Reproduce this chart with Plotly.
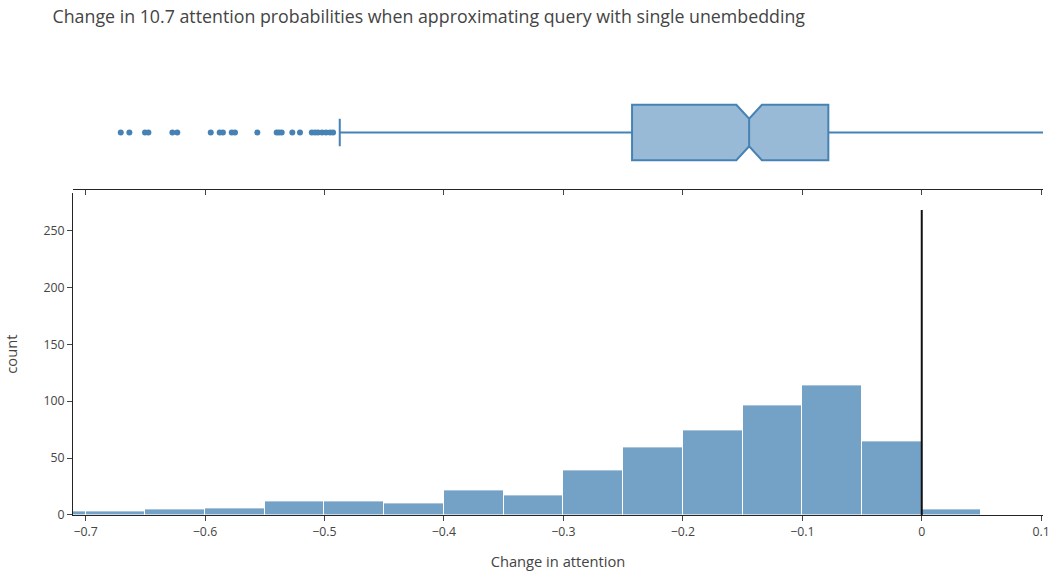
import plotly.graph_objects as go

# ---- data ----
bin_left_edges = [-0.75, -0.70, -0.65, -0.60, -0.55, -0.50, -0.45, -0.40,
                  -0.35, -0.30, -0.25, -0.20, -0.15, -0.10, -0.05, 0.00]
bin_width = 0.05
counts = [3, 3, 5, 6, 12, 12, 10, 22, 17, 39, 59, 74, 96, 114, 65, 5]

box_q1 = [-0.2425]
box_median = [-0.1445]
box_q3 = [-0.0782]
box_lowerfence = [-0.4872]
box_upperfence = [0.115]
box_notchspan = [0.0107]

outliers = [-0.6705, -0.6633, -0.6502, -0.6474, -0.6273, -0.6232, -0.5952,
            -0.5877, -0.5850, -0.5776, -0.5749, -0.5562, -0.5400, -0.5380,
            -0.5358, -0.5269, -0.5205, -0.5106, -0.5079, -0.5054, -0.5020,
            -0.4987, -0.4953, -0.4928]

vline_x = [0, 0]
vline_y = [0, 268]

x_ticks = [-0.7, -0.6, -0.5, -0.4, -0.3, -0.2, -0.1, 0, 0.1]
y_ticks = [0, 50, 100, 150, 200, 250]

COLOR = "#4682b4"

fig = go.Figure()
fig.add_trace(go.Bar(
    x=bin_left_edges, y=counts, width=bin_width, offset=0,
    marker=dict(color=COLOR, line=dict(color="white", width=1)),
    opacity=0.75, showlegend=False, xaxis="x", yaxis="y",
))
fig.add_trace(go.Scatter(
    x=vline_x, y=vline_y, mode="lines",
    line=dict(color="#111", width=2), showlegend=False,
    xaxis="x", yaxis="y",
))
fig.add_trace(go.Box(
    q1=box_q1, median=box_median, q3=box_q3,
    lowerfence=box_lowerfence, upperfence=box_upperfence,
    notchspan=box_notchspan, notched=True,
    y=[0], orientation="h", width=0.49,
    line=dict(color=COLOR, width=2), fillcolor="rgba(70,130,180,0.55)",
    boxpoints=False, showlegend=False, xaxis="x2", yaxis="y2",
))
fig.add_trace(go.Scatter(
    x=outliers, y=[0] * len(outliers), mode="markers",
    marker=dict(color=COLOR, size=6), showlegend=False,
    xaxis="x2", yaxis="y2",
))

xr = [-0.7105, 0.1015]
fig.update_layout(
    template="simple_white",
    width=1050, height=571,
    margin=dict(l=73, r=7, t=75.5, b=56, autoexpand=False),
    font=dict(family="Open Sans", color="#444", size=12.3),
    title=dict(text="Change in 10.7 attention probabilities when approximating query with single unembedding",
               x=0.05, xanchor="left", y=0.97, yanchor="middle", yref="container",
               font=dict(size=17.8)),
    bargap=0,
    xaxis=dict(domain=[0, 1], range=xr, tickvals=x_ticks, automargin=False,
               title=dict(text="Change in attention", standoff=20, font=dict(size=14.7)),
               anchor="y"),
    yaxis=dict(domain=[0, 0.7326], range=[0, 282.5], tickvals=y_ticks, automargin=False,
               title=dict(text="count", standoff=22, font=dict(size=14.7)), anchor="x"),
    xaxis2=dict(domain=[0, 1], range=xr, tickvals=x_ticks, showticklabels=False,
                matches="x", anchor="y2", automargin=False),
    yaxis2=dict(domain=[0.7426, 1], range=[-0.5, 0.5], visible=False, anchor="x2"),
)

fig.write_html("out.html")
